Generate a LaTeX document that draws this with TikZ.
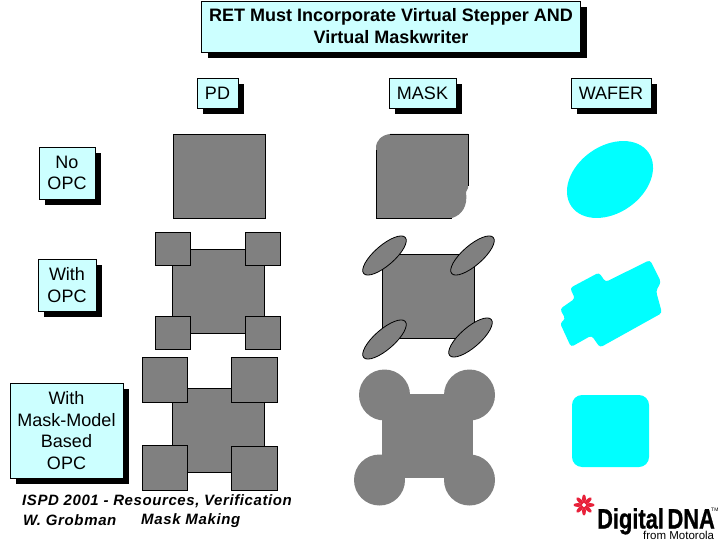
\documentclass[tikz,border=0pt]{standalone}
\usepackage{fontspec}
\setmainfont{Liberation Sans}
\usetikzlibrary{shapes.geometric,shadows}
\definecolor{boxcyan}{HTML}{CCFFFF}
\definecolor{shapegray}{HTML}{808080}
\definecolor{wafercyan}{HTML}{00FFFF}
\definecolor{logored}{HTML}{E8213A}
\tikzset{
  x=1pt,y=-1pt,
  labelbox/.style={draw=black,line width=0.8pt,fill=boxcyan,inner sep=0pt,align=center,
    drop shadow={shadow xshift=6pt,shadow yshift=-6pt,fill=black,opacity=1},
    font=\fontsize{18}{21.5}\selectfont},
  pdsq/.style={draw=black,line width=0.8pt,fill=shapegray},
  maskell/.style={draw=black,line width=0.8pt,fill=shapegray,shape=ellipse,inner sep=0pt,
    minimum width=55pt,minimum height=20pt,rotate=41},
  masksolid/.style={fill=shapegray},
  wafer/.style={fill=wafercyan},
  petal/.style={fill=logored,shape=ellipse,inner sep=0pt,minimum width=9pt,minimum height=4pt},
  footnote/.style={font=\fontsize{15}{18}\selectfont\bfseries\itshape,anchor=west,inner sep=0pt},
}
\begin{document}
\begin{tikzpicture}
\useasboundingbox (0,0) rectangle (720,540);
\fill[white] (0,0) rectangle (720,540);
% header boxes
\node[labelbox,minimum width=379pt,minimum height=51pt,font=\fontsize{18}{22}\selectfont\bfseries] (title) at (391,26.5)
  {RET Must Incorporate Virtual Stepper AND\\Virtual Maskwriter};
\node[labelbox,minimum width=41pt,minimum height=30pt] (pd) at (217.5,93) {PD};
\node[labelbox,minimum width=67pt,minimum height=30pt] (mask) at (422.5,93) {MASK};
\node[labelbox,minimum width=80pt,minimum height=30pt] (waferhd) at (611,93) {WAFER};
% row boxes
\node[labelbox,minimum width=56pt,minimum height=52pt] (noopc) at (67,173) {No\\OPC};
\node[labelbox,minimum width=58pt,minimum height=52pt] (withopc) at (67,285) {With\\OPC};
\node[labelbox,minimum width=113pt,minimum height=95pt] (model) at (66.5,430.5) {With\\Mask-Model\\Based\\OPC};
% PD column
\draw[pdsq] (173,134) rectangle (265,218);
\draw[pdsq] (172,249) rectangle (264,333);
\draw[pdsq] (155,232) rectangle (190,265);
\draw[pdsq] (245,232) rectangle (280,265);
\draw[pdsq] (155,316) rectangle (190,349);
\draw[pdsq] (245,316) rectangle (280,349);
\draw[pdsq] (172,388) rectangle (264,472);
\draw[pdsq] (142,357) rectangle (187,402);
\draw[pdsq] (231,357) rectangle (277,402);
\draw[pdsq] (142,445) rectangle (187,490);
\draw[pdsq] (231,446) rectangle (277,490);
% MASK row 1
\fill[masksolid] (390,134) -- (468,134) -- (468,188) -- (466,192)
  .. controls (468,206) and (462,215) .. (452,218) -- (376,218) -- (376,148)
  .. controls (376,140) and (382,135) .. (390,134) -- cycle;
\draw[black,line width=0.8pt] (390,134) -- (468,134) -- (468,186);
\draw[black,line width=0.8pt] (376,150) -- (376,218) -- (452,218);
% MASK row 2
\draw[pdsq] (382,254) rectangle (474,338);
\node[maskell] (e1) at (384.5,255.5) {};
\node[maskell] (e2) at (472.5,255.5) {};
\node[maskell] (e3) at (384.5,339.5) {};
\node[maskell] (e4) at (470.5,337.5) {};
% MASK row 3
\fill[masksolid] (382,394) rectangle (473,478);
\fill[masksolid] (384.5,395) circle[radius=25.5];
\fill[masksolid] (469.5,395) circle[radius=25.5];
\fill[masksolid] (379.5,480) circle[radius=25.5];
\fill[masksolid] (469.5,480) circle[radius=25.5];
% WAFER
\node[wafer,shape=ellipse,inner sep=0pt,minimum width=94pt,minimum height=67pt,rotate=35] (w1) at (610,179.5) {};
\fill[wafer,rounded corners=3pt]
  (570,288) -- (599,272.5) -- (605.5,282) -- (650,260) -- (661,282) -- (656,291)
  -- (662,313) -- (600,347.5) -- (591.5,335.5) -- (571,347) -- (560,323) -- (565.5,319)
  -- (560,309) -- (575,298.5) -- cycle;
\fill[wafer,rounded corners=10pt] (572,395) rectangle (649,467);
% footer
\node[footnote] (f1) at (22,501.5) {\addfontfeature{LetterSpace=3.9}ISPD 2001 - Resources, Verification};
\node[footnote] (f2) at (23,520.5) {\addfontfeature{LetterSpace=4.3}W. Grobman};
\node[footnote] (f3) at (141,520.5) {\addfontfeature{LetterSpace=4.3}Mask Making};
% logo
\foreach \a in {0,45,...,315}{
  \node[petal,rotate=\a] at ([shift={(\a:-6pt)}]584,505) {};
}
\node[inner sep=0pt,anchor=base west,font=\fontsize{28}{28}\selectfont\bfseries,xscale=0.78] (logo) at (597,528.5)
  {\addfontfeature{FakeBold=1}\smash{Digital\,DNA}};
\node[inner sep=0pt,anchor=base west,font=\fontsize{5}{5}\selectfont] (tm) at (711,511) {TM};
\node[inner sep=0pt,anchor=base west,font=\fontsize{11.5}{12}\selectfont] (from) at (643,539) {from Motorola};
\end{tikzpicture}
\end{document}
